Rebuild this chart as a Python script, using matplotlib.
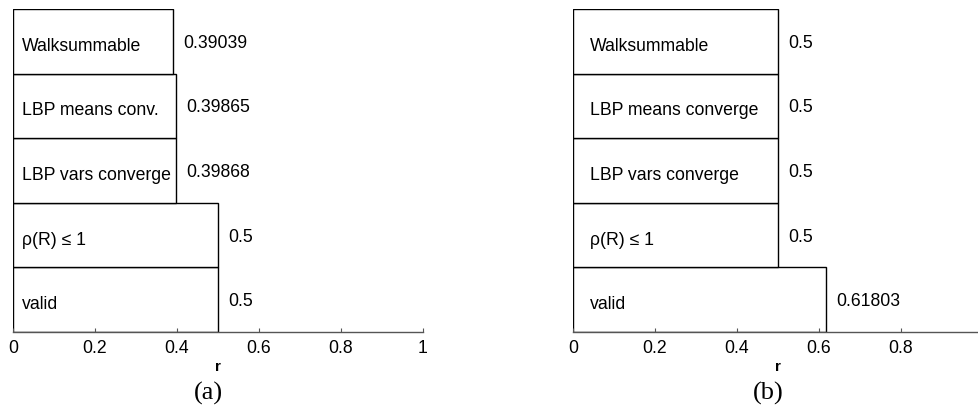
import matplotlib
matplotlib.use('Agg')
import matplotlib.pyplot as plt

plt.rcParams['font.family'] = ['Liberation Sans', 'DejaVu Sans']

# datos (de abajo hacia arriba)
labels_a = ['valid', 'ρ(R) ≤ 1', 'LBP vars converge', 'LBP means conv.', 'Walksummable']
values_a = [0.5, 0.5, 0.39868, 0.39865, 0.39039]
text_a = ['0.5', '0.5', '0.39868', '0.39865', '0.39039']

labels_b = ['valid', 'ρ(R) ≤ 1', 'LBP vars converge', 'LBP means converge', 'Walksummable']
values_b = [0.61803, 0.5, 0.5, 0.5, 0.5]
text_b = ['0.61803', '0.5', '0.5', '0.5', '0.5']

xticks = [0, 0.2, 0.4, 0.6, 0.8, 1]
xtick_labels = ['0', '0.2', '0.4', '0.6', '0.8', '1']

W, H = 979, 408
fig = plt.figure(figsize=(W / 100, H / 100), dpi=100)


def panel(left_px, labels, values, texts, sub, lab_off):
    ax = fig.add_axes([left_px / W, (H - 332) / H, 410 / W, (332 - 9) / H])
    ys = range(len(values))
    ax.barh(ys, values, height=1.0, color='white', edgecolor='black', linewidth=1.0)
    for y, v, lab, t in zip(ys, values, labels, texts):
        ax.annotate(lab, (0, y), xytext=(lab_off, -5), textcoords='offset pixels',
                    ha='left', va='center', fontsize=12.7)
        ax.annotate(t, (v, y), xytext=(10, -2), textcoords='offset pixels',
                    ha='left', va='center', fontsize=12.7)
    ax.set_xlim(0, 1)
    ax.set_ylim(-0.5, len(values) - 0.5)
    ax.set_xticks(xticks)
    ax.set_xticklabels(xtick_labels, fontsize=12.7)
    ax.set_yticks([])
    ax.tick_params(axis='x', direction='in', length=3, width=0.8, color='#555555', pad=6)
    for s in ['top', 'right', 'left']:
        ax.spines[s].set_visible(False)
    ax.spines['bottom'].set_color('#555555')
    ax.spines['bottom'].set_linewidth(1.0)
    ax.set_xlabel('r', fontsize=11, fontweight='bold', labelpad=2)
    ax.text(0.476, -0.19, sub, transform=ax.transAxes, ha='center', va='center',
            fontsize=19, family='Liberation Serif')
    return ax


panel(13, labels_a, values_a, text_a, '(a)', 9)
ax_b = panel(573, labels_b, values_b, text_b, '(b)', 17)
# la etiqueta "1" queda fuera del borde en (b)
ax_b.get_xticklabels()[-1].set_visible(False)

fig.savefig('out.png', dpi=100)
